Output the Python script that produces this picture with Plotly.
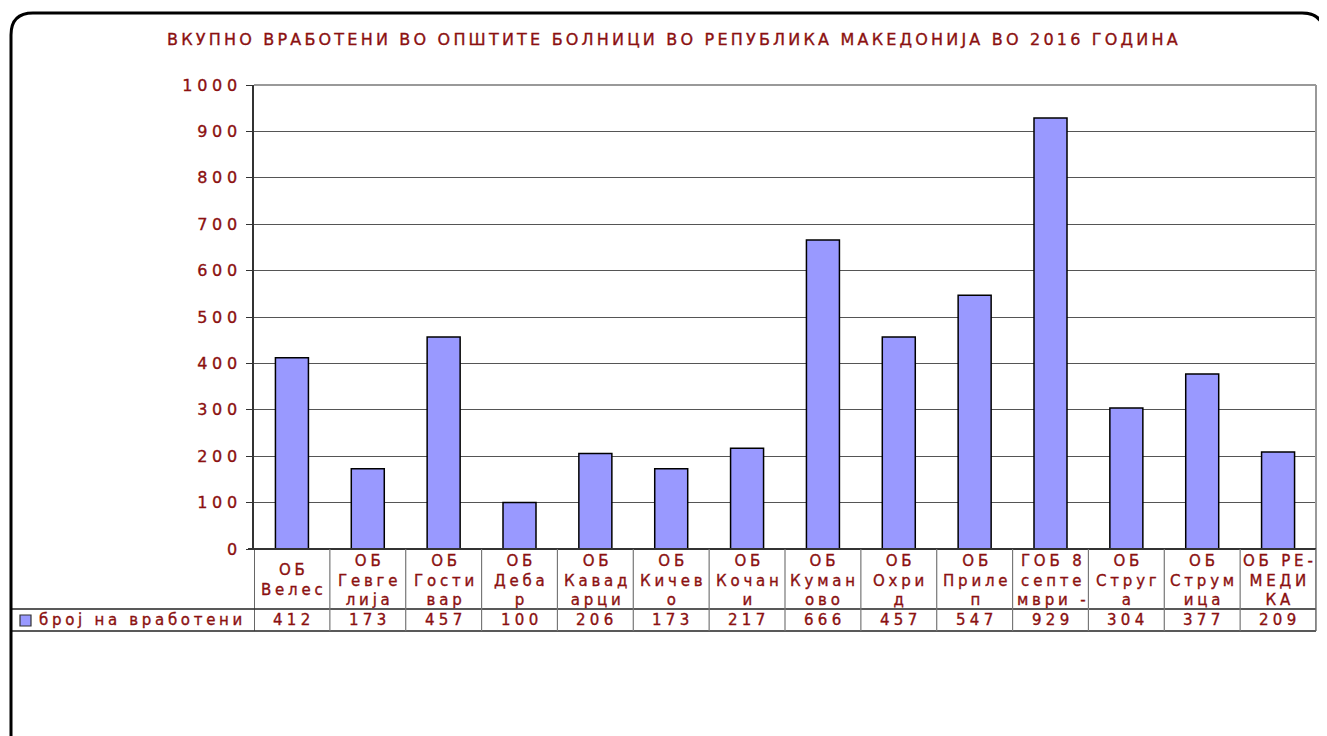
import plotly.graph_objects as go

title_text = "ВКУПНО ВРАБОТЕНИ ВО ОПШТИТЕ БОЛНИЦИ ВО РЕПУБЛИКА МАКЕДОНИЈА ВО 2016 ГОДИНА"
series_name = "број на вработени"
categories = ["ОБ Велес", "ОБ Гевгелија", "ОБ Гостивар", "ОБ Дебар", "ОБ Кавадарци",
              "ОБ Кичево", "ОБ Кочани", "ОБ Куманово", "ОБ Охрид", "ОБ Прилеп",
              "ГОБ 8 септември -", "ОБ Струга", "ОБ Струмица", "ОБ РЕ-МЕДИКА"]
category_labels = ["ОБ<br>Велес", "ОБ<br>Гевге<br>лија", "ОБ<br>Гости<br>вар", "ОБ<br>Деба<br>р",
                   "ОБ<br>Кавад<br>арци", "ОБ<br>Кичев<br>о", "ОБ<br>Кочан<br>и", "ОБ<br>Куман<br>ово",
                   "ОБ<br>Охри<br>д", "ОБ<br>Приле<br>п", "ГОБ 8<br>септе<br>мври -", "ОБ<br>Струг<br>а",
                   "ОБ<br>Струм<br>ица", "ОБ РЕ-<br>МЕДИ<br>КА"]
employees = [412, 173, 457, 100, 206, 173, 217, 666, 457, 547, 929, 304, 377, 209]
y_ticks = [0, 100, 200, 300, 400, 500, 600, 700, 800, 900, 1000]

W, H = 1327, 736
OFF = 8  # page offset of the figure inside the browser window
RED = "#8B1010"
FONT = "DejaVu Sans"
BAR = "#9999FF"


def px(x):
    return (x - OFF) / W


def py(y):
    return 1 - (y - OFF) / H


def sp(text, ls):
    lines = text.split("<br>")
    style = f"letter-spacing:{ls}px;stroke:{RED};stroke-width:0.35px"
    return "<br>".join(f'<span style="{style}">{t}</span>' for t in lines)


x_left, x_right = 254, 1316
y_top, y_zero = 85, 549
row1_bottom, row2_bottom = 609, 631

fig = go.Figure()
fig.add_trace(go.Bar(
    x=list(range(len(categories))), y=employees, name=series_name,
    marker=dict(color=BAR, line=dict(color="#000000", width=1.5)),
    width=0.435, hoverinfo="y",
))

fig.update_layout(
    width=W, height=H,
    margin=dict(l=0, r=0, t=0, b=0, autoexpand=False),
    paper_bgcolor="white", plot_bgcolor="white",
    showlegend=False,
    font=dict(family=FONT, color=RED, size=15),
    xaxis=dict(domain=[px(x_left), px(x_right)], range=[-0.5, len(categories) - 0.5],
               showticklabels=False, showgrid=False, zeroline=False, showline=False, ticks="",
               automargin=False),
    yaxis=dict(domain=[py(y_zero), py(y_top)], range=[0, 1000], tickvals=y_ticks,
               ticktext=[sp(str(v), 4.7) for v in y_ticks],
               showgrid=True, gridcolor="#555555", gridwidth=1, zeroline=False,
               showline=True, linecolor="#333333", linewidth=2, ticks="outside",
               ticklen=6, tickcolor="#333333", ticklabelstandoff=1, automargin=False,
               tickfont=dict(family=FONT, size=16, color=RED)),
)

shapes = []
annotations = []

# title
annotations.append(dict(x=px(674), y=py(40), xref="paper", yref="paper", text=sp(title_text, 3.2),
                        showarrow=False, xanchor="center", yanchor="middle",
                        font=dict(family=FONT, size=16, color=RED)))

# plot area top/right border
shapes.append(dict(type="line", xref="paper", yref="paper", x0=px(x_left), x1=px(x_right),
                   y0=py(y_top), y1=py(y_top), line=dict(color="#777777", width=1.5)))
shapes.append(dict(type="line", xref="paper", yref="paper", x0=px(x_right), x1=px(x_right),
                   y0=py(y_top), y1=py(row2_bottom), line=dict(color="#999999", width=2)))
# x axis line
shapes.append(dict(type="line", xref="paper", yref="paper", x0=px(x_left - 6), x1=px(x_right),
                   y0=py(y_zero), y1=py(y_zero), line=dict(color="#333333", width=2)))

# table grid
for yy in (row1_bottom, row2_bottom):
    shapes.append(dict(type="line", xref="paper", yref="paper", x0=px(12), x1=px(x_right),
                       y0=py(yy), y1=py(yy), line=dict(color="#222222", width=1.5)))
for i in range(len(categories) + 1):
    shapes.append(dict(type="line", xref="x", yref="paper", x0=i - 0.5, x1=i - 0.5,
                       y0=py(y_zero), y1=py(row2_bottom),
                       line=dict(color="#333333" if i == 0 else "#777777", width=1.5 if i == 0 else 1.2)))

# category labels and values
for i, (lab, v) in enumerate(zip(category_labels, employees)):
    annotations.append(dict(x=i, y=py((y_zero + row1_bottom) / 2 + 1), xref="x", yref="paper",
                            text=sp(lab, 3.8), showarrow=False, xanchor="center", yanchor="middle",
                            xshift=2, font=dict(family=FONT, size=15, color=RED)))
    annotations.append(dict(x=i, y=py((row1_bottom + row2_bottom) / 2), xref="x", yref="paper",
                            text=sp(str(v), 4.3), showarrow=False, xanchor="center", yanchor="middle",
                            xshift=2, font=dict(family=FONT, size=15, color=RED)))

# legend key in table
shapes.append(dict(type="rect", xref="paper", yref="paper", x0=px(20), x1=px(31),
                   y0=py(626), y1=py(615), fillcolor=BAR, line=dict(color="#333333", width=1.2)))
annotations.append(dict(x=px(37), y=py(620), xref="paper", yref="paper", text=sp(series_name, 3.7),
                        showarrow=False, xanchor="left", yanchor="middle",
                        font=dict(family=FONT, size=15, color=RED)))

# outer rounded border
r = 22
L, T, R, B = 11, 13, 1324, 760
path = (f"M {px(L)},{py(B - r)} L {px(L)},{py(T + r)} Q {px(L)},{py(T)} {px(L + r)},{py(T)} "
        f"L {px(R - r)},{py(T)} Q {px(R)},{py(T)} {px(R)},{py(T + r)} L {px(R)},{py(B - r)} "
        f"Q {px(R)},{py(B)} {px(R - r)},{py(B)} L {px(L + r)},{py(B)} Q {px(L)},{py(B)} {px(L)},{py(B - r)} Z")
shapes.append(dict(type="path", xref="paper", yref="paper", path=path,
                   line=dict(color="#000000", width=3)))

fig.update_layout(shapes=shapes, annotations=annotations)
fig.write_html("out.html")
